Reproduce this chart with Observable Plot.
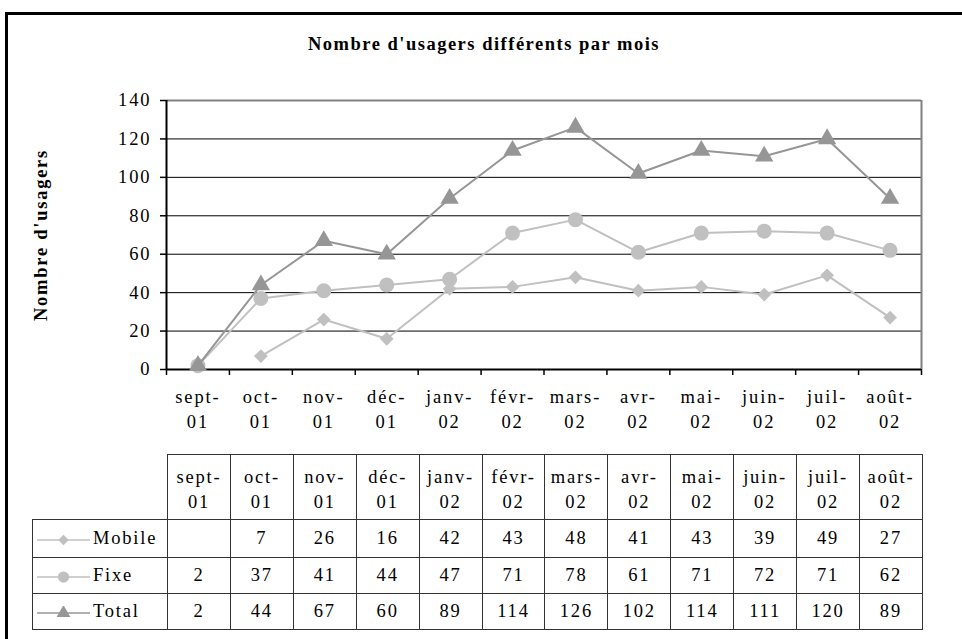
<!DOCTYPE html>
<html>
<head>
<meta charset="utf-8">
<script src="https://cdn.jsdelivr.net/npm/d3@7"></script>
<script src="https://cdn.jsdelivr.net/npm/@observablehq/plot@0.6"></script>
<style>
  html, body { margin: 0; padding: 0; background: #fff; }
  #wrap { position: relative; width: 962px; height: 639px; overflow: hidden; font-family: "Liberation Serif", "DejaVu Serif", serif; color: #000; }
  #frame { position: absolute; left: 5px; top: 12px; width: 1000px; height: 700px; border: 3px solid #000; box-sizing: border-box; }
  #title { position: absolute; left: 484px; top: 44px; transform: translate(-50%, -50%); font-weight: bold; font-size: 18.5px; letter-spacing: 1.5px; white-space: nowrap; }
  #ylabel { position: absolute; left: 41px; top: 235px; transform: translate(-50%, -50%) rotate(-90deg); font-weight: bold; font-size: 18.5px; letter-spacing: 1.75px; white-space: nowrap; }
  #chart { position: absolute; left: 0; top: 0; }
  #chart svg text { letter-spacing: 1.9px; }
  #tbl { position: absolute; left: 32px; top: 454px; border-collapse: collapse; table-layout: fixed; width: 890px; font-size: 18.5px; letter-spacing: 1.8px; }
  #tbl td { border: 1.5px solid #333; text-align: center; padding: 0; vertical-align: middle; }
  #tbl tr.head td { height: 65px; line-height: 25px; padding-top: 6px; box-sizing: border-box; }
  #tbl tr.row td { height: 35px; }
  #tbl tr.row.first td { height: 37px; }
  #tbl td.blank { border-top: none; border-left: none; }
  #tbl td.leg { text-align: left; white-space: nowrap; }
  #tbl td.leg svg { vertical-align: middle; margin-left: 4px; margin-right: 3px; }
</style>
</head>
<body>
<div id="wrap">
  <div id="frame"></div>
  <div id="title"></div>
  <div id="ylabel"></div>
  <div id="chart"></div>
  <table id="tbl"></table>
</div>
<script>
const titleText = "Nombre d'usagers différents par mois";
const yLabelText = "Nombre d'usagers";
const months = ["sept-01","oct-01","nov-01","déc-01","janv-02","févr-02","mars-02","avr-02","mai-02","juin-02","juil-02","août-02"];
const seriesNames = ["Mobile", "Fixe", "Total"];
const mobile = [null, 7, 26, 16, 42, 43, 48, 41, 43, 39, 49, 27];
const fixe   = [2, 37, 41, 44, 47, 71, 78, 61, 71, 72, 71, 62];
const total  = [2, 44, 67, 60, 89, 114, 126, 102, 114, 111, 120, 89];
const yTicks = [0, 20, 40, 60, 80, 100, 120, 140];

const seriesValues = [mobile, fixe, total];
const symbols = ["diamond2", "circle", "triangle"];
const fills = ["#c0c0c0", "#c0c0c0", "#969696"];
const strokes = ["#c0c0c0", "#c0c0c0", "#969696"];
const radii = [6.2, 7.5, 6.8];

document.getElementById("title").textContent = titleText;
document.getElementById("ylabel").textContent = yLabelText;

const idx = d3.range(months.length);
const bounds = d3.range(months.length + 1).map(i => i - 0.5);
const label = m => m.replace("-", "-\n");

const seriesMarks = [];
seriesNames.forEach((name, s) => {
  const data = idx.map(i => ({i, v: seriesValues[s][i]})).filter(d => d.v != null);
  seriesMarks.push(Plot.line(data, {x: "i", y: "v", stroke: strokes[s], strokeWidth: 2}));
  seriesMarks.push(Plot.dot(data, {x: "i", y: "v", symbol: () => symbols[s], r: radii[s], fill: fills[s], stroke: "none"}));
});

const chart = Plot.plot({
  width: 962,
  height: 450,
  marginTop: 100,
  marginBottom: 81,
  marginLeft: 166,
  marginRight: 41,
  x: {domain: [bounds[0], bounds[bounds.length - 1]], axis: null},
  y: {domain: [yTicks[0], yTicks[yTicks.length - 1]], axis: null},
  symbol: {type: "identity"},
  style: {fontFamily: "Liberation Serif, serif", fontSize: "18.5px", color: "#000", background: "transparent", overflow: "visible"},
  marks: [
    Plot.ruleY(yTicks.slice(1, -1), {stroke: "#000", strokeWidth: 1}),
    Plot.ruleY(yTicks.slice(-1), {stroke: "#808080", strokeWidth: 2}),
    Plot.ruleX(bounds.slice(-1), {stroke: "#808080", strokeWidth: 2}),
    Plot.axisY({ticks: yTicks, tickSize: 6, tickPadding: 9, stroke: "#000", strokeWidth: 1.5, tickFormat: d => String(d), fontSize: 18.5, label: null}),
    Plot.axisX({ticks: bounds, tickSize: 6, stroke: "#000", strokeWidth: 1.5, tickFormat: () => "", label: null}),
    Plot.axisX({ticks: idx, tickSize: 0, tickPadding: 16, tickFormat: i => label(months[i]), lineHeight: 1.35, fontSize: 18.5, label: null}),
    Plot.ruleX(bounds.slice(0, 1), {stroke: "#000", strokeWidth: 2}),
    Plot.ruleY(yTicks.slice(0, 1), {stroke: "#000", strokeWidth: 2}),
    ...seriesMarks
  ]
});
document.getElementById("chart").appendChild(chart);

// data table
const tbl = d3.select("#tbl");
const cg = tbl.append("colgroup");
cg.append("col").style("width", "135px");
months.forEach(() => cg.append("col").style("width", (755 / months.length) + "px"));
const head = tbl.append("tr").attr("class", "head");
head.append("td").attr("class", "blank");
months.forEach(m => head.append("td").html(m.replace("-", "-<br>")));
seriesNames.forEach((name, s) => {
  const tr = tbl.append("tr").attr("class", s === 0 ? "row first" : "row");
  const td = tr.append("td").attr("class", "leg");
  const sw = td.append("svg").attr("width", 53).attr("height", 14);
  sw.append("line").attr("x1", 0).attr("x2", 53).attr("y1", 7).attr("y2", 7).attr("stroke", strokes[s]).attr("stroke-width", 1.5);
  const symMap = {diamond2: d3.symbolDiamond2, circle: d3.symbolCircle, triangle: d3.symbolTriangle};
  sw.append("path").attr("transform", "translate(26.5,7)")
    .attr("d", d3.symbol(symMap[symbols[s]], Math.PI * Math.pow(radii[s] * 0.75, 2))())
    .attr("fill", fills[s]);
  td.append("span").text(name);
  seriesValues[s].forEach(v => tr.append("td").text(v == null ? "" : v));
});
</script>
</body>
</html>
